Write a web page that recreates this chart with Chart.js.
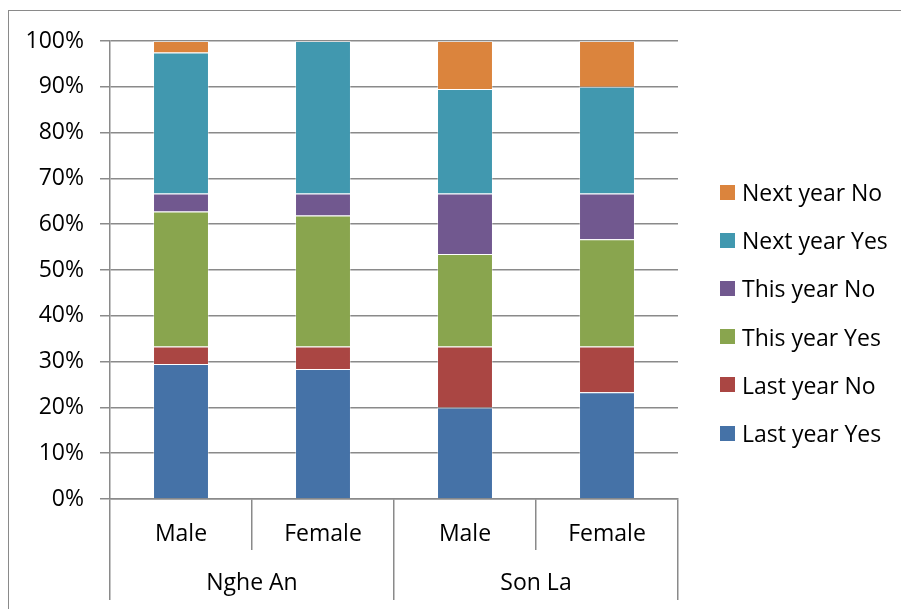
<!DOCTYPE html>
<html>
<head>
<meta charset="utf-8">
<script src="https://cdn.jsdelivr.net/npm/chart.js@4/dist/chart.umd.min.js"></script>
<style>
  html, body { margin: 0; padding: 0; background: #fff; }
  #wrap { position: relative; width: 901px; height: 609px; overflow: hidden; }
  #frame { position: absolute; left: 8px; top: 10px; width: 1000px; height: 700px;
           border-left: 1px solid #8a8a8a; border-top: 1px solid #8a8a8a; pointer-events: none; }
  #legend { position: absolute; left: 720px; top: 168px; margin: 0; padding: 0; list-style: none;
            font-family: "Open Sans", "Noto Sans", sans-serif; font-size: 23px; color: #000; }
  #legend li { height: 48.2px; display: flex; align-items: center; white-space: nowrap; }
  #legend .box { width: 15px; height: 15px; margin-right: 7px; flex: none; }
</style>
</head>
<body>
<div id="wrap">
  <canvas id="c" width="901" height="609"></canvas>
  <div id="frame"></div>
  <ul id="legend"></ul>
</div>
<script>
// Sub-groups on the first axis row, regions on the second row
const categories = ['Male', 'Female', 'Male', 'Female'];
const regions = ['Nghe An', 'Son La'];

// Share of respondents (%) per answer, in category order
const lastYearYes = [29.5, 28.4, 20.0, 23.3];
const lastYearNo  = [3.8, 4.9, 13.3, 10.0];
const thisYearYes = [29.5, 28.6, 20.2, 23.4];
const thisYearNo  = [3.9, 4.8, 13.2, 10.0];
const nextYearYes = [30.8, 33.3, 22.8, 23.3];
const nextYearNo  = [2.5, 0.0, 10.5, 10.0];

const yTicks = [0, 10, 20, 30, 40, 50, 60, 70, 80, 90, 100];

const series = [
  { label: 'Last year Yes', data: lastYearYes, color: '#4572A7' },
  { label: 'Last year No',  data: lastYearNo,  color: '#AA4643' },
  { label: 'This year Yes', data: thisYearYes, color: '#89A54E' },
  { label: 'This year No',  data: thisYearNo,  color: '#71588F' },
  { label: 'Next year Yes', data: nextYearYes, color: '#4198AF' },
  { label: 'Next year No',  data: nextYearNo,  color: '#DB843D' }
];

const FONT = { family: '"Open Sans", "Noto Sans", sans-serif', size: 23, lineHeight: 1 };
const AXIS_GREY = '#8a8a8a';

// HTML legend, listed top to bottom in reverse stacking order
const htmlLegend = {
  id: 'htmlLegend',
  afterUpdate(chart) {
    const ul = document.getElementById('legend');
    ul.innerHTML = '';
    chart.data.datasets.slice().reverse().forEach(ds => {
      const li = document.createElement('li');
      const box = document.createElement('span');
      box.className = 'box';
      box.style.background = ds.backgroundColor;
      li.appendChild(box);
      li.appendChild(document.createTextNode(ds.label));
      ul.appendChild(li);
    });
  }
};

new Chart(document.getElementById('c'), {
  type: 'bar',
  data: {
    labels: categories,
    datasets: series.map(s => ({
      label: s.label,
      data: s.data,
      backgroundColor: s.color,
      borderColor: 'rgba(255,255,255,0.35)',
      borderWidth: ctx => (ctx.raw > 0 ? 1 : 0),
      barPercentage: 0.394,
      categoryPercentage: 1
    }))
  },
  options: {
    responsive: false,
    animation: false,
    events: [],
    layout: { padding: { left: 0, top: 41, right: 223, bottom: 9 } },
    plugins: { legend: { display: false }, tooltip: { enabled: false } },
    scales: {
      x: {
        stacked: true,
        position: 'bottom',
        weight: 0,
        offset: true,
        grid: { offset: true, drawOnChartArea: false, color: AXIS_GREY, lineWidth: 1.5, tickLength: 51, tickColor: AXIS_GREY },
        border: { display: true, color: AXIS_GREY, width: 1.5 },
        ticks: { color: '#000', font: FONT, padding: -27.5, maxRotation: 0, autoSkip: false },
        afterFit(s) { s.height = 51; }
      },
      x2: {
        type: 'category',
        labels: regions,
        position: 'bottom',
        weight: 1,
        offset: true,
        grid: { offset: true, drawOnChartArea: false, color: AXIS_GREY, lineWidth: 1.5, tickLength: 50, tickColor: AXIS_GREY },
        border: { display: false },
        ticks: { color: '#000', font: FONT, padding: -28.5, maxRotation: 0, autoSkip: false },
        afterFit(s) { s.height = 50; }
      },
      y: {
        stacked: true,
        min: 0,
        max: 100,
        afterBuildTicks(s) { s.ticks = yTicks.map(v => ({ value: v })); },
        grid: { color: AXIS_GREY, lineWidth: 1.5, tickLength: 10, tickColor: AXIS_GREY },
        border: { display: true, color: AXIS_GREY, width: 1.5 },
        ticks: { color: '#000', font: FONT, padding: 16, callback: v => v + '%' },
        afterFit(s) { s.width = 110; }
      }
    }
  },
  plugins: [htmlLegend]
});
</script>
</body>
</html>
